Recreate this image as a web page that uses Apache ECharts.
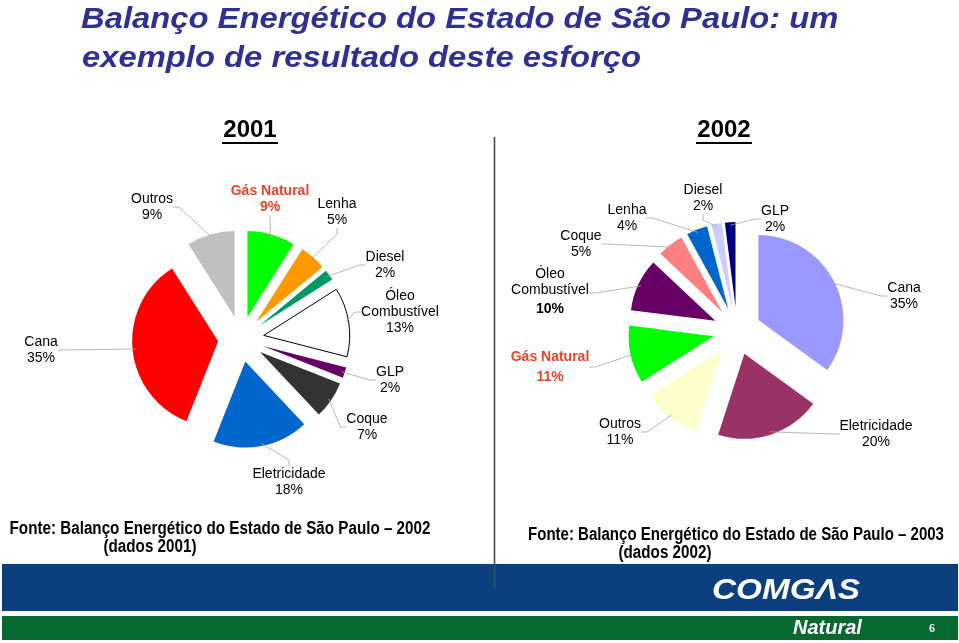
<!DOCTYPE html>
<html><head><meta charset="utf-8">
<script src="https://cdn.jsdelivr.net/npm/echarts@6/dist/echarts.min.js"></script>
<style>html,body{margin:0;padding:0;background:#fff}#c{width:959px;height:643px}</style>
</head><body><div id="c"></div>
<script>
// ---- data ----
const cats2001 = ['Gás Natural', 'Lenha', 'Diesel', 'Óleo\nCombustível', 'GLP', 'Coque', 'Eletricidade', 'Cana', 'Outros'];
const vals2001 = [9, 5, 2, 13, 2, 7, 18, 35, 9];
const cats2002 = ['Cana', 'Eletricidade', 'Outros', 'Gás Natural', 'Óleo\nCombustível', 'Coque', 'Lenha', 'Diesel', 'GLP'];
const vals2002 = [35, 20, 11, 11, 10, 5, 4, 2, 2];
const years = ['2001', '2002'];
const sources = ['Fonte: Balanço Energético do Estado de São Paulo – 2002', 'Fonte: Balanço Energético do Estado de São Paulo – 2003'];
const sourceYears = ['(dados 2001)', '(dados 2002)'];
const titleLines = ['Balanço Energético do Estado de São Paulo: um', 'exemplo de resultado deste esforço'];

// ---- styles / layout ----
const colors2001 = ['#00ff00', '#ff9900', '#009966', '#ffffff', '#660066', '#333333', '#0066cc', '#ff0000', '#c0c0c0'];
const colors2002 = ['#9999ff', '#993366', '#ffffcc', '#00ff00', '#660066', '#ff8080', '#0066cc', '#ccccff', '#000080'];
const labelPos2001 = [[270,199],[337,212],[385,265],[400,312],[390,380],[367,427],[289,482],[41,350],[152,207]];
const labelPos2002 = [[904,296],[876,434],[620,432],[550,367],[550,293],[581,244],[627,218],[703,198],[775,219]];
const FONT = '"Liberation Sans", Arial, Helvetica, sans-serif';
const RED = '#e64528';

// exploded slices (no labels)
function slicesSeries(cats, vals, colors, center, radius, offset) {
  return {
    type: 'pie', center: center, radius: radius, startAngle: 90, clockwise: true,
    selectedMode: 'multiple', selectedOffset: offset, animation: false, silent: true, z: 2,
    label: { show: false }, labelLine: { show: false },
    data: cats.map((c, i) => ({
      name: c, value: vals[i], selected: true,
      itemStyle: colors[i] === '#ffffff'
        ? { color: colors[i], borderColor: '#000', borderWidth: 1 }
        : { color: colors[i], borderWidth: 0 }
    }))
  };
}

// invisible overlay pie that carries the labels and leader lines
function labelSeries(cats, vals, center, radius, labelPos, redLH, boldPct) {
  return {
    type: 'pie', center: center, radius: radius, startAngle: 90, clockwise: true,
    avoidLabelOverlap: false, animation: false, silent: true, z: 3,
    itemStyle: { color: 'rgba(0,0,0,0)', borderWidth: 0 },
    label: {
      show: true, position: 'outside', color: '#000', fontFamily: FONT, fontSize: 14, lineHeight: 16,
      align: 'center',
      formatter: function (p) {
        const lines = p.name.split('\n');
        const pct = p.value + '%';
        if (p.name === 'Gás Natural') return lines.map(l => '{r|' + l + '}').join('\n') + '\n{r|' + pct + '}';
        if (boldPct && p.name.indexOf('Óleo') === 0) return lines.map(l => '{n|' + l + '}').join('\n') + '\n{b|' + pct + '}';
        return lines.map(l => '{n|' + l + '}').join('\n') + '\n{n|' + pct + '}';
      },
      rich: {
        n: { fontFamily: FONT, fontSize: 14, lineHeight: 16, color: '#000', align: 'center' },
        r: { fontFamily: FONT, fontSize: 14, lineHeight: redLH, color: RED, fontWeight: 'bold', align: 'center' },
        b: { fontFamily: FONT, fontSize: 14, lineHeight: 22, color: '#000', fontWeight: 'bold', align: 'center' }
      }
    },
    labelLine: { show: true, length: 6, length2: 6, smooth: false, lineStyle: { color: '#a6a6a6', width: 0.8 } },
    labelLayout: function (p) {
      return { x: labelPos[p.dataIndex][0], y: labelPos[p.dataIndex][1], align: 'center', verticalAlign: 'middle' };
    },
    data: cats.map((c, i) => ({ name: c, value: vals[i] }))
  };
}

function txt(text, x, y, font, fill, align, scaleX, z) {
  return {
    type: 'text', x: x, y: y, scaleX: scaleX || 1, z: z || 10,
    style: { text: text, x: 0, y: 0, font: font, fill: fill, align: align || 'left', verticalAlign: 'middle',
             textAlign: align || 'left', textVerticalAlign: 'middle' }
  };
}

const chart = echarts.init(document.getElementById('c'), null, { renderer: 'canvas' });
chart.setOption({
  backgroundColor: '#ffffff',
  animation: false,
  series: [
    slicesSeries(cats2001, vals2001, colors2001, [241, 339], 86, 23),
    labelSeries(cats2001, vals2001, [241, 339], 106, labelPos2001, 16, false),
    slicesSeries(cats2002, vals2002, colors2002, [737, 331], 85, 24),
    labelSeries(cats2002, vals2002, [737, 331], 106, labelPos2002, 20, true)
  ],
  graphic: [
    txt(titleLines[0], 81, 20, 'italic bold 29px ' + FONT, '#2e3192', 'left', 1.13),
    txt(titleLines[1], 82, 59, 'italic bold 29px ' + FONT, '#2e3192', 'left', 1.13),
    txt(years[0], 250, 130, 'bold 24px ' + FONT, '#000', 'center'),
    txt(years[1], 724, 130, 'bold 24px ' + FONT, '#000', 'center'),
    { type: 'rect', shape: { x: 222, y: 142, width: 56, height: 2 }, style: { fill: '#000' } },
    { type: 'rect', shape: { x: 696, y: 142, width: 56, height: 2 }, style: { fill: '#000' } },
    txt(sources[0], 220, 529, 'bold 18px ' + FONT, '#000', 'center', 0.845),
    txt(sourceYears[0], 150, 547, 'bold 18px ' + FONT, '#000', 'center', 0.845),
    txt(sources[1], 736, 535, 'bold 18px ' + FONT, '#000', 'center', 0.835),
    txt(sourceYears[1], 665, 553, 'bold 18px ' + FONT, '#000', 'center', 0.845),
    { type: 'rect', z: 5, shape: { x: 2, y: 564, width: 956, height: 47 }, style: { fill: '#0c3f7e' } },
    { type: 'rect', z: 5, shape: { x: 2, y: 616, width: 956, height: 24 }, style: { fill: '#06692f' } },
    { type: 'line', z: 8, shape: { x1: 494.5, y1: 137, x2: 494.5, y2: 588 }, style: { stroke: '#4a4a4a', lineWidth: 1.6 } },
    txt('COMGΛS', 712, 591, 'italic bold 30px ' + FONT, '#ffffff', 'left', 1.11, 12),
    txt('Natural', 793, 628, 'italic bold 20px ' + FONT, '#ffffff', 'left', 1, 12),
    txt('6', 932, 629, 'bold 12px "Liberation Serif", "DejaVu Serif", serif', '#ffffff', 'center', 1, 12)
  ]
});
</script>
</body></html>
